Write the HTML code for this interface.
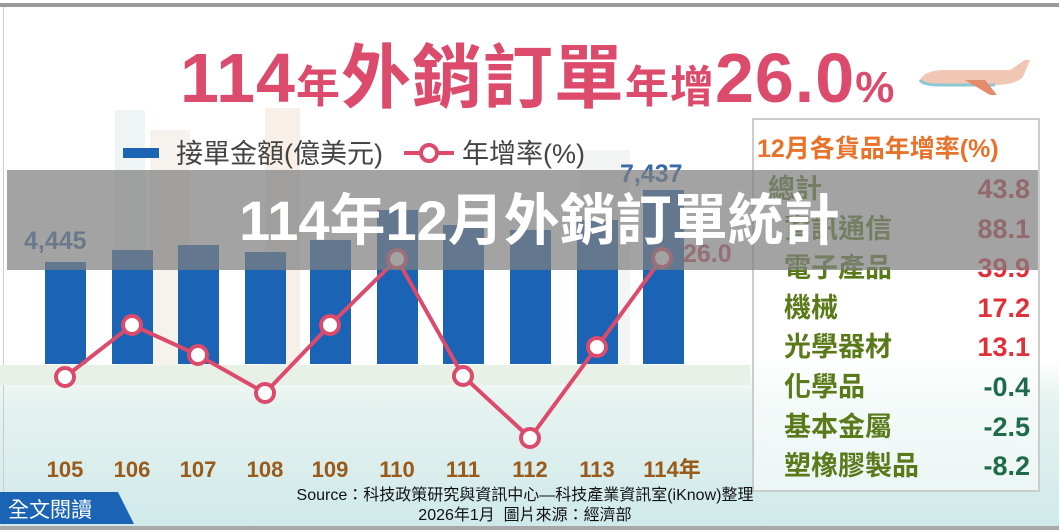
<!DOCTYPE html>
<html><head><meta charset="utf-8"><style>
body{margin:0;width:1059px;height:530px;overflow:hidden;background:#fff;font-family:"Liberation Sans","Noto Sans CJK TC",sans-serif;position:relative}
.a{position:absolute;white-space:nowrap}
</style></head><body>
<div class="a" style="left:0;top:0;width:1059px;height:530px;background:linear-gradient(#fff 0,#fff 360px,#e6f3ef 400px,#cfe9ea 530px)"></div>
<div class="a" style="left:0;top:3px;width:1059px;height:4px;background:#9a9a9a"></div>
<div class="a" style="left:0;top:526px;width:1059px;height:4px;background:#a8a8a8"></div>
<div class="a" style="left:3px;top:7px;width:1px;height:519px;background:#ccc"></div>
<div class="a" style="left:115px;top:110px;width:30px;height:260px;background:#eef5f4"></div>
<div class="a" style="left:150px;top:130px;width:40px;height:240px;background:#f6f3ee"></div>
<div class="a" style="left:265px;top:108px;width:35px;height:262px;background:#f8f0e8"></div>
<div class="a" style="left:580px;top:150px;width:50px;height:220px;background:#f3f5f5"></div>
<div class="a" style="left:0;top:365px;width:750px;height:20px;background:#e8f1e8"></div>
<div class="a" style="left:180px;top:22px;color:#dc4a6c;font-weight:bold;font-size:70px;letter-spacing:1px">114<span style="font-size:44px">年</span>外銷訂單<span style="font-size:44px">年增</span>26.0<span style="font-size:44px">%</span></div>
<svg class="a" style="left:915px;top:55px" width="120" height="45"><path d="M5 25 Q10 15 30 15 L95 15 L110 5 L115 5 L108 22 Q100 30 80 30 L25 30 Q8 30 5 25Z" fill="#f0c7b5"/><path d="M5 25 Q8 30 25 30 L80 30" stroke="#8cc7d4" stroke-width="3" fill="none"/><path d="M50 25 L75 40 L82 40 L70 25Z" fill="#e58a6a"/></svg>
<div class="a" style="left:123px;top:148px;width:36px;height:10px;background:#1a63b5"></div>
<div class="a" style="left:176px;top:132px;font-size:27px;color:#444">接單金額(億美元)</div>
<svg class="a" style="left:404px;top:141px" width="50" height="24"><line x1="0" y1="12" x2="50" y2="12" stroke="#dc4a6c" stroke-width="4"/><circle cx="25" cy="12" r="8" fill="#fff" stroke="#dc4a6c" stroke-width="4"/></svg>
<div class="a" style="left:462px;top:132px;font-size:27px;color:#444">年增率(%)</div>
<svg class="a" style="left:0;top:0" width="760" height="500">
<g fill="#1a63b5">
<rect x="45" y="262" width="41" height="102"/><rect x="112" y="250" width="41" height="114"/><rect x="178" y="245" width="41" height="119"/><rect x="245" y="252" width="41" height="112"/><rect x="310" y="240" width="41" height="124"/><rect x="377" y="210" width="41" height="154"/><rect x="443" y="225" width="41" height="139"/><rect x="510" y="230" width="41" height="134"/><rect x="577" y="220" width="41" height="144"/><rect x="643" y="190" width="41" height="174"/>
</g>
<polyline points="65,377 132,325 198,355 265,393 330,325 397,259 463,376 530,438 597,347 662,258" fill="none" stroke="#dc4a6c" stroke-width="4"/>
<g fill="#fff" stroke="#dc4a6c" stroke-width="4">
<circle cx="65" cy="377" r="9"/><circle cx="132" cy="325" r="9"/><circle cx="198" cy="355" r="9"/><circle cx="265" cy="393" r="9"/><circle cx="330" cy="325" r="9"/><circle cx="397" cy="259" r="9"/><circle cx="463" cy="376" r="9"/><circle cx="530" cy="438" r="9"/><circle cx="597" cy="347" r="9"/><circle cx="662" cy="258" r="9"/>
</g>
<g font-weight="bold" font-size="22" fill="#9a5a1a" text-anchor="middle">
<text x="65" y="477">105</text><text x="132" y="477">106</text><text x="198" y="477">107</text><text x="265" y="477">108</text><text x="330" y="477">109</text><text x="397" y="477">110</text><text x="463" y="477">111</text><text x="530" y="477">112</text><text x="597" y="477">113</text><text x="672" y="477">114年</text>
</g>
<text x="24" y="249" font-size="25" font-weight="bold" fill="#3a6aa8">4,445</text>
<text x="620" y="182" font-size="25" font-weight="bold" fill="#3a6aa8">7,437</text>
<text x="683" y="262" font-size="25" font-weight="bold" fill="#c94a5e">26.0</text>
</svg>
<div class="a" style="left:752px;top:118px;width:284px;height:370px;border:2px solid #ccc;background:rgba(255,255,255,0.55)"></div>
<div class="a" style="left:757px;top:129px;font-size:25px;font-weight:bold;color:#e8722a">12月各貨品年增率(%)</div>
<div class="a" style="left:768px;top:170px;width:262px;font-size:27px;font-weight:bold;line-height:39.6px">
<div style="display:flex;justify-content:space-between"><span style="color:#5a7a1a">總計</span><span style="color:#c0303a">43.8</span></div>
<div style="display:flex;justify-content:space-between;padding-left:16px"><span style="color:#5a7a1a">資訊通信</span><span style="color:#c0303a">88.1</span></div>
<div style="display:flex;justify-content:space-between;padding-left:16px"><span style="color:#5a7a1a">電子產品</span><span style="color:#e0303a">39.9</span></div>
<div style="display:flex;justify-content:space-between;padding-left:16px"><span style="color:#5a7a1a">機械</span><span style="color:#e0303a">17.2</span></div>
<div style="display:flex;justify-content:space-between;padding-left:16px"><span style="color:#5a7a1a">光學器材</span><span style="color:#e0303a">13.1</span></div>
<div style="display:flex;justify-content:space-between;padding-left:16px"><span style="color:#5a7a1a">化學品</span><span style="color:#1d6b4a">-0.4</span></div>
<div style="display:flex;justify-content:space-between;padding-left:16px"><span style="color:#5a7a1a">基本金屬</span><span style="color:#1d6b4a">-2.5</span></div>
<div style="display:flex;justify-content:space-between;padding-left:16px"><span style="color:#5a7a1a">塑橡膠製品</span><span style="color:#1d6b4a">-8.2</span></div>
</div>
<div class="a" style="left:7px;top:170px;width:1031px;height:100px;background:rgba(128,128,128,0.72)"></div>
<div class="a" style="left:0;top:186px;width:1059px;text-align:center;font-size:56px;font-weight:bold;color:#fff;line-height:70px;padding-left:10px">114年12月外銷訂單統計</div>
<div class="a" style="left:0;top:492px;width:134px;height:32px;background:#1a63b5;clip-path:polygon(0 0,88% 0,100% 100%,0 100%)"></div>
<div class="a" style="left:8px;top:494px;font-size:21px;color:#fff">全文閱讀</div>
<div class="a" style="left:0;top:486px;width:1050px;text-align:center;font-size:16px;color:#111;line-height:20px">Source：科技政策研究與資訊中心—科技產業資訊室(iKnow)整理<br>2026年1月&nbsp; 圖片來源：經濟部</div>
</body></html>
